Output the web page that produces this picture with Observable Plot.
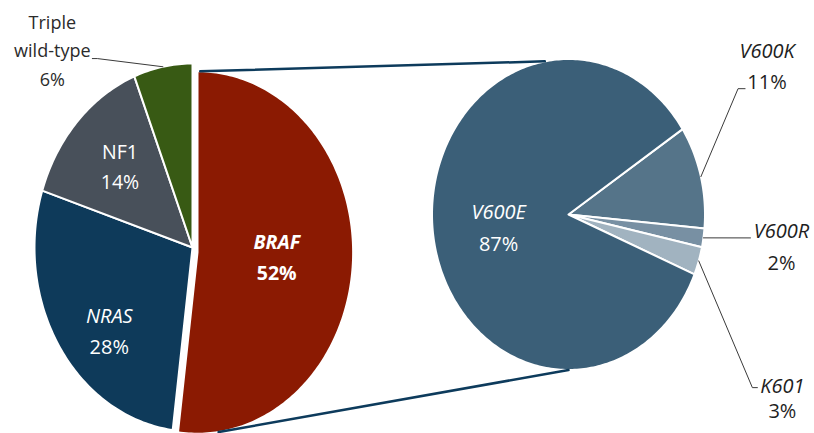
<!DOCTYPE html>
<html>
<head>
<meta charset="utf-8">
<script src="https://cdn.jsdelivr.net/npm/d3@7"></script>
<script src="https://cdn.jsdelivr.net/npm/@observablehq/plot@0.6"></script>
<style>
  html, body { margin: 0; padding: 0; background: #ffffff; }
  #chart svg { display: block; }
</style>
</head>
<body>
<div id="chart"></div>
<script>
// ---------------- data ----------------
const leftCategories = ["BRAF", "NRAS", "NF1", "Triple\nwild-type"];
const leftValues = [52, 28, 14, 6];
const rightCategories = ["V600K", "V600R", "K601", "V600E"];
const rightValues = [11, 2, 3, 87];

// ---------------- layout & style ----------------
const W = 814, H = 433;
const FONT = "'Open Sans', 'Noto Sans', sans-serif";
const leftPie = {cx: 192, cy: 247, rx: 158, ry: 184, start: 0};
const rightPie = {cx: 568, cy: 214, rx: 136.5, ry: 155.5, start: 56.7};
const explode = {BRAF: {dx: 5, dy: 5, scale: 0.985}};
const colors = {
  "BRAF": "#8b1a02", "NRAS": "#0e3a5a", "NF1": "#48505a", "Triple\nwild-type": "#385a14",
  "V600E": "#3b5f78", "V600K": "#557489", "V600R": "#7890a3", "K601": "#a1b3c0"
};
const textStyle = {
  "BRAF": {fill: "#ffffff", nameStyle: "italic", nameWeight: "bold", pctWeight: "bold", size: 19.5},
  "NRAS": {fill: "#ffffff", nameStyle: "italic", nameWeight: "normal", pctWeight: "normal", size: 20},
  "NF1": {fill: "#ffffff", nameStyle: "normal", nameWeight: "normal", pctWeight: "normal", size: 19.5},
  "Triple\nwild-type": {fill: "#2b2b2b", nameStyle: "normal", nameWeight: "normal", pctWeight: "normal", size: 18},
  "V600E": {fill: "#ffffff", nameStyle: "italic", nameWeight: "normal", pctWeight: "normal", size: 20},
  "V600K": {fill: "#1e1e1e", nameStyle: "italic", nameWeight: "normal", pctWeight: "normal", size: 20},
  "V600R": {fill: "#1e1e1e", nameStyle: "italic", nameWeight: "normal", pctWeight: "normal", size: 20},
  "K601": {fill: "#1e1e1e", nameStyle: "italic", nameWeight: "normal", pctWeight: "normal", size: 20}
};
// label placement: polar offset from slice mid-angle (degrees), radius factor, line gap
const labelPlace = {
  "BRAF": {dA: 0, r: 0.51, gap: 31},
  "NRAS": {dA: -8.8, r: 0.70, gap: 31},
  "NF1": {dA: 0, r: 0.63, gap: 30},
  "Triple\nwild-type": {dA: -29, r: 1.386, gap: 28.5},
  "V600E": {dA: -4.6, r: 0.52, gap: 32},
  "V600K": {dA: -19, r: 1.736, gap: 31},
  "V600R": {dA: -0.8, r: 1.575, gap: 32},
  "K601": {dA: 19.7, r: 1.964, gap: 25}
};
// leader lines: pixel offsets from label centre, drawn from the slice edge
const leaders = {
  "Triple\nwild-type": [[45, 7], [40, 7]],
  "V600K": [[-29, 21.5], [-22, 21.5]],
  "V600R": [[-31, -10]],
  "K601": [[-30, -11], [-25, -11]]
};

// ---------------- geometry ----------------
const rad = d => d * Math.PI / 180;
function pt(g, angle, r = 1) {
  return {x: g.cx + g.rx * r * Math.sin(rad(angle)), y: g.cy - g.ry * r * Math.cos(rad(angle))};
}
function buildSlices(cats, vals, pie) {
  const total = d3.sum(vals);
  let a = pie.start;
  return cats.map((c, i) => {
    const span = vals[i] / total * 360;
    const ex = explode[c];
    const g = ex ? {cx: pie.cx + ex.dx, cy: pie.cy + ex.dy, rx: pie.rx * ex.scale, ry: pie.ry * ex.scale}
                 : {cx: pie.cx, cy: pie.cy, rx: pie.rx, ry: pie.ry};
    const s = {key: c, value: vals[i], a0: a, a1: a + span, mid: a + span / 2, g};
    a += span;
    return s;
  });
}
function slicePoints(s) {
  const pts = [{x: s.g.cx, y: s.g.cy, key: s.key}];
  const n = Math.max(2, Math.ceil((s.a1 - s.a0) / 1));
  for (let i = 0; i <= n; i++) {
    const p = pt(s.g, s.a0 + (s.a1 - s.a0) * i / n);
    pts.push({...p, key: s.key});
  }
  return pts;
}

const leftSlices = buildSlices(leftCategories, leftValues, leftPie);
const rightSlices = buildSlices(rightCategories, rightValues, rightPie);
const allSlices = [...leftSlices, ...rightSlices];

const marks = [];
// slices
for (const s of allSlices) {
  marks.push(Plot.line(slicePoints(s), {
    x: "x", y: "y", curve: "linear-closed",
    fill: colors[s.key], stroke: "#ffffff", strokeWidth: 2, strokeLinejoin: "round"
  }));
}

// connector lines between BRAF and the secondary pie
const braf = leftSlices.find(s => s.key === "BRAF");
const connectors = [
  [pt(braf.g, braf.a0 + 1), pt(rightPie, 350)],
  [pt(braf.g, braf.a1 - 15), pt(rightPie, 180)]
].flatMap((seg, i) => seg.map(p => ({...p, k: i})));
marks.push(Plot.line(connectors, {x: "x", y: "y", z: "k", stroke: "#0d3b5c", strokeWidth: 2.5}));

// labels
const textData = [];
const leaderData = [];
for (const s of allSlices) {
  const lp = labelPlace[s.key];
  const c = pt(s.g, s.mid + lp.dA, lp.r);
  const st = textStyle[s.key];
  const nameLines = s.key.split("\n");
  const lines = [...nameLines.map(t => ({t, kind: "name"})), {t: s.value + "%", kind: "pct"}];
  const n = lines.length;
  lines.forEach((l, i) => {
    textData.push({
      x: c.x, y: c.y + (i - (n - 1) / 2) * lp.gap, text: l.t,
      fill: st.fill, size: st.size || 19,
      style: l.kind === "name" ? st.nameStyle : "normal",
      weight: l.kind === "name" ? st.nameWeight : st.pctWeight
    });
  });
  if (leaders[s.key]) {
    const arc = pt(s.g, s.mid, 1);
    const pts = [arc, ...leaders[s.key].map(([dx, dy]) => ({x: c.x + dx, y: c.y + dy}))];
    pts.forEach(p => leaderData.push({...p, k: s.key}));
  }
}
marks.push(Plot.line(leaderData, {x: "x", y: "y", z: "k", stroke: "#3a3a3a", strokeWidth: 1}));

// group text by style so constant font options can be used
const groups = d3.groups(textData, d => [d.fill, d.size, d.style, d.weight].join("|"));
for (const [, rows] of groups) {
  const r0 = rows[0];
  marks.push(Plot.text(rows, {
    x: "x", y: "y", text: "text", textAnchor: "middle", lineAnchor: "middle",
    fill: r0.fill, fontSize: r0.size, fontStyle: r0.style, fontWeight: r0.weight,
    fontFamily: FONT
  }));
}

const chart = Plot.plot({
  width: W, height: H, margin: 0,
  x: {domain: [0, W], range: [0, W], axis: null},
  y: {domain: [0, H], range: [0, H], axis: null},
  style: {background: "#ffffff", overflow: "visible"},
  marks
});
document.getElementById("chart").appendChild(chart);
</script>
</body>
</html>
